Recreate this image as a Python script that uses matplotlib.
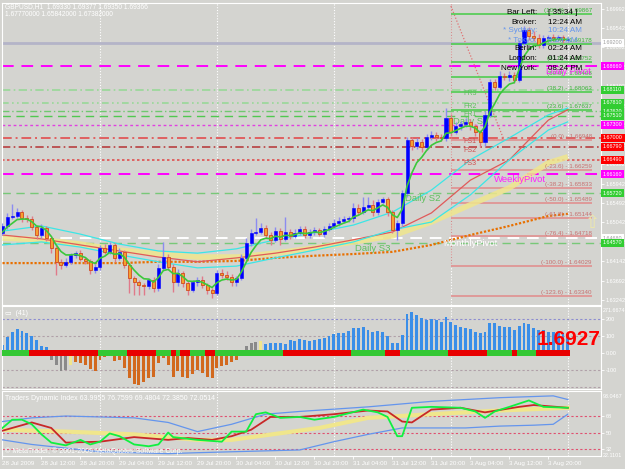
import matplotlib
matplotlib.use('Agg')
import matplotlib.pyplot as plt
import matplotlib.transforms as mtransforms
import numpy as np

plt.rcParams['font.family'] = ['Liberation Sans', 'DejaVu Sans']

W, H = 625, 469
BG = '#D4D4D0'

# ---------------- data ----------------
first_open = 1.6480
closes = [1.6496, 1.6517, 1.6519, 1.6528, 1.6514, 1.6512, 1.6494, 1.6475, 1.6491, 1.6468,
          1.6445, 1.6413, 1.6406, 1.6413, 1.6429, 1.6433, 1.6420, 1.6415, 1.6394, 1.6401,
          1.6445, 1.6436, 1.6452, 1.6422, 1.6436, 1.6406, 1.6376, 1.6366, 1.6359, 1.6357,
          1.6371, 1.6352, 1.6399, 1.6424, 1.6401, 1.6366, 1.6387, 1.6364, 1.6348, 1.6366,
          1.6371, 1.6359, 1.6348, 1.6341, 1.6387, 1.6383, 1.6378, 1.6366, 1.6376, 1.6422,
          1.6457, 1.6480, 1.6482, 1.6491, 1.6475, 1.6464, 1.6484, 1.6466, 1.6482, 1.6473,
          1.6480, 1.6489, 1.6475, 1.6482, 1.6487, 1.6477, 1.6489, 1.6496, 1.6503, 1.6508,
          1.6512, 1.6514, 1.6538, 1.6528, 1.6540, 1.6545, 1.6528, 1.6551, 1.6558, 1.6528,
          1.6487, 1.6503, 1.6572, 1.6695, 1.6681, 1.6690, 1.6679, 1.6702, 1.6707, 1.6702,
          1.6700, 1.6746, 1.6714, 1.6727, 1.6732, 1.6737, 1.6727, 1.6714, 1.6690, 1.6753,
          1.6829, 1.6818, 1.6843, 1.6841, 1.6845, 1.6834, 1.6920, 1.6950, 1.6936, 1.6931,
          1.6915, 1.6931, 1.6933, 1.6931, 1.6933, 1.6926, 1.6928]
up_pips = [6, 8, 28, 10, 5, 8, 6, 5, 10, 6,
           4, 5, 6, 8, 5, 6, 8, 5, 4, 6,
           8, 10, 6, 5, 8, 4, 5, 4, 6, 4,
           5, 6, 8, 35, 8, 6, 10, 5, 4, 6,
           6, 8, 5, 4, 6, 10, 8, 6, 5, 8,
           10, 8, 32, 12, 8, 6, 10, 8, 35, 8,
           10, 8, 6, 8, 6, 5, 8, 6, 10, 8,
           6, 5, 10, 8, 23, 18, 12, 8, 6, 5,
           4, 6, 8, 6, 8, 10, 8, 6, 8, 6,
           6, 23, 8, 10, 6, 8, 6, 6, 5, 10,
           8, 6, 12, 8, 10, 8, 6, 8, 6, 12,
           10, 8, 6, 8, 6, 5, 4]
down_pips = [5, 6, 6, 5, 8, 6, 8, 10, 6, 8,
             12, 30, 10, 6, 5, 8, 6, 8, 10, 6,
             8, 6, 5, 10, 6, 8, 35, 29, 22, 20,
             8, 10, 6, 5, 8, 23, 8, 10, 12, 6,
             8, 6, 10, 12, 6, 8, 6, 10, 8, 6,
             5, 8, 6, 5, 8, 12, 6, 15, 6, 8,
             6, 5, 8, 6, 8, 5, 6, 5, 4, 6,
             5, 6, 8, 6, 5, 8, 10, 6, 5, 8,
             8, 24, 6, 8, 10, 8, 12, 8, 6, 10,
             8, 8, 10, 6, 8, 6, 8, 10, 12, 8,
             6, 8, 6, 8, 10, 8, 6, 8, 10, 6,
             8, 6, 5, 6, 8, 6, 5]

ema_start = 1.6475
ma_bars = [0, 8, 16, 24, 32, 40, 48, 56, 64, 72, 80, 88, 96, 104, 112, 116]
red_ma = [1.6475, 1.6466, 1.6452, 1.6438, 1.6424, 1.6413, 1.6422, 1.6433, 1.6447, 1.6464,
          1.6482, 1.6526, 1.6602, 1.6649, 1.6741, 1.6765]
cyan_hi = [1.6484, 1.6496, 1.6477, 1.6454, 1.6438, 1.6433, 1.6443, 1.6464, 1.6480, 1.6498,
           1.6528, 1.6579, 1.6649, 1.6700, 1.6753, 1.6769]
cyan_lo = [1.6452, 1.6459, 1.6447, 1.6429, 1.6413, 1.6399, 1.6403, 1.6422, 1.6440, 1.6459,
           1.6487, 1.6505, 1.6568, 1.6649, 1.6718, 1.6737]
yellow_ma = [1.6468, 1.6464, 1.6454, 1.6440, 1.6431, 1.6424, 1.6424, 1.6433, 1.6445, 1.6459,
             1.6473, 1.6505, 1.6545, 1.6584, 1.6642, 1.6656]
orange_ma = [1.6410, 1.6410, 1.6410, 1.6410, 1.6413, 1.6413, 1.6415, 1.6422, 1.6427, 1.6431,
             1.6436, 1.6452, 1.6475, 1.6496, 1.6519, 1.6524]

bid_line = 1.6920
daily_pivot = 1.6866
fr3, fr2, fr1 = 1.6811, 1.6781, 1.6762
daily_s1 = 1.6751
fib_pivot = 1.6730
fs1, fs2, fs3 = 1.6700, 1.6679, 1.6649
weekly_pivot = 1.6616
daily_s2 = 1.6572
monthly_pivot = 1.6468
daily_s3 = 1.6457

fib_levels = [100.0, 76.4, 61.8, 50.0, 38.2, 23.6, 0.0, -23.6, -38.2, -50.0, -61.8, -76.4, -100.0, -123.6]
fib_prices = [1.69867, 1.69178, 1.68752, 1.68408, 1.68063, 1.67637, 1.66948, 1.66259, 1.65833,
              1.65489, 1.65144, 1.64718, 1.64029, 1.63340]

cci = [45, 95, 120, 140, 130, 115, 100, 75, 40, 35,
       -40, -70, -110, -100, -75, -55, -60, -70, -95, -110,
       -40, -25, -15, -50, -40, -90, -150, -185, -190, -175,
       -150, -140, -60, -30, -70, -140, -110, -140, -150, -125,
       -100, -120, -140, -150, -90, -80, -70, -55, -40, -20,
       40, 55, 65, 70, 50, 55, 60, 55, 50, 75,
       70, 78, 75, 70, 75, 78, 84, 100, 110, 118,
       118, 125, 143, 143, 149, 133, 123, 128, 120, 100,
       55, 55, 104, 227, 241, 221, 202, 192, 196, 192,
       182, 208, 182, 163, 153, 143, 137, 123, 118, 123,
       172, 172, 157, 149, 149, 133, 157, 172, 169, 143,
       133, 133, 123, 123, 114, 118, 110]
gray_bars = [10, 11, 12, 13, 50, 51, 52]
yellow_bars = [14, 53]
strip_runs = [('G', 6), ('R', 14), ('G', 6), ('R', 6), ('G', 3), ('R', 1), ('G', 1), ('R', 2),
              ('G', 3), ('R', 2), ('G', 14), ('R', 14), ('G', 7), ('R', 3), ('G', 10), ('R', 8),
              ('G', 5), ('R', 1), ('G', 4), ('R', 7)]

tdi_green_bars = [0, 2, 4, 6, 8, 10, 13, 16, 18, 20, 22, 24, 27, 30, 32, 34, 35, 40, 45, 47,
                  50, 52, 54, 57, 61, 64, 68, 74, 77, 79, 81, 82, 84, 88, 94, 97, 99, 101, 104, 108,
                  111, 116]
tdi_green = [55, 64, 64, 59, 48, 39, 36, 42, 37, 40, 49, 46, 37, 35, 37, 50, 45, 42, 40, 51,
             51, 70, 72, 66, 67, 64, 67, 75, 72, 67, 46, 46, 77, 78, 77, 73, 66, 73, 78, 85,
             78, 77]
tdi_red_bars = [0, 6, 10, 13, 20, 27, 34, 38, 43, 47, 51, 55, 61, 68, 75, 79, 82, 84, 88, 94,
                99, 106, 109, 116]
tdi_red = [52, 61, 55, 39, 40, 45, 42, 44, 42, 46, 53, 67, 67, 70, 74, 73, 62, 61, 75, 77,
           72, 78, 80, 77]
tdi_yellow_bars = [0, 13, 27, 40, 47, 65, 75, 88, 102, 116]
tdi_yellow = [53, 51, 48, 42, 42, 55, 66, 70, 74, 77]
tdi_up_bars = [0, 6, 13, 20, 27, 34, 40, 47, 54, 61, 75, 88, 102, 113, 116]
tdi_up = [62, 66, 68, 67, 66, 61, 51, 59, 70, 73, 78, 84, 88, 90, 86]
tdi_lo_bars = [0, 6, 13, 20, 27, 34, 40, 47, 54, 61, 68, 75, 82, 88, 95, 102, 109, 113, 116]
tdi_lo = [42, 37, 33, 29, 28, 27, 28, 29, 30, 31, 40, 48, 55, 55, 55, 57, 58, 59, 70]

x_label_bars = [0, 8, 16, 24, 32, 40, 48, 56, 64, 72, 80, 88, 96, 104, 112]
x_labels = ['28 Jul 2009', '28 Jul 12:00', '28 Jul 20:00', '29 Jul 04:00', '29 Jul 12:00',
            '29 Jul 20:00', '30 Jul 04:00', '30 Jul 12:00', '30 Jul 20:00', '31 Jul 04:00',
            '31 Jul 12:00', '31 Jul 20:00', '3 Aug 04:00', '3 Aug 12:00', '3 Aug 20:00']
day_breaks = [20, 44, 68, 92, 116]

clock_names = ['Bar Left:', 'Broker:', '* Sydney:', '* Tokyo:', 'Berlin:', 'London:', 'New York:']
clock_values = ['[ 35:34 ]', '12:24 AM', '10:24 AM', '9:24 AM', '02:24 AM', '01:24 AM', '08:24 PM']

# ---------------- figure ----------------
fig = plt.figure(figsize=(W / 100, H / 100), dpi=100, facecolor=BG)


def px_axes(top, bottom):
    return fig.add_axes([2 / W, 1 - bottom / H, 599 / W, (bottom - top) / H])


def ftext(px, py, s, **kw):
    kw.setdefault('va', 'center')
    fig.text(px / W, 1 - py / H, s, **kw)


ax1 = px_axes(3, 305)
ax2 = px_axes(306, 389)
ax3 = px_axes(391, 456)
XMIN, XMAX = -0.1, 122.8
for ax in (ax1, ax2, ax3):
    ax.set_facecolor(BG)
    ax.set_xlim(XMIN, XMAX)
    for s in ax.spines.values():
        s.set_color('white')
        s.set_linewidth(0.8)
    ax.yaxis.tick_right()
    ax.tick_params(axis='y', colors='white', labelsize=4, length=2, pad=1.2, width=0.6)
    for b in day_breaks:
        ax.axvline(b, color='white', ls=(0, (1, 1.5)), lw=0.8, zorder=1)
ax1.set_xticks([])
ax2.set_xticks([])

# ---------------- main price panel ----------------
ax1.set_ylim(1.6313, 1.7012)
ticks = [1.69992 - 0.0045 * k for k in range(16)]
ax1.set_yticks(ticks, ['%.5f' % t for t in ticks])

n = len(closes)
x = np.arange(n)
c = np.array(closes)
o = np.array([first_open] + closes[:-1])
hi = np.maximum(o, c) + np.array(up_pips) * 0.0001
lo = np.minimum(o, c) - np.array(down_pips) * 0.0001
bull = c >= o

# horizontal levels
ax1.axhline(bid_line, color='#B4B4C8', lw=2, zorder=2)
ax1.axhline(daily_pivot, color='#FF00FF', lw=1.4, ls=(0, (6, 4)), zorder=2)
ax1.axhline(fr3, color='#98D898', lw=1.2, ls=(0, (5, 2, 1, 2)), zorder=2)
ax1.axhline(fr2, color='#98D898', lw=1.2, ls=(0, (4, 2, 1, 2, 1, 2)), zorder=2)
ax1.axhline(fr1, color='#70C870', lw=1.0, ls=(0, (5, 2, 1, 2)), zorder=2)
ax1.axhline(daily_s1, color='#50C850', lw=1.0, ls=(0, (6, 4)), zorder=2)
ax1.axhline(fib_pivot, color='#E040E0', lw=1.0, ls=(0, (2, 2)), zorder=2)
ax1.axhline(fs1, color='#E06060', lw=1.4, ls=(0, (5, 2, 1, 2)), zorder=2)
ax1.axhline(fs2, color='#B84040', lw=1.2, ls=(0, (5, 2, 1, 2)), zorder=2)
ax1.axhline(fs3, color='#E05050', lw=1.2, ls=(0, (1.5, 1.5)), zorder=2)
ax1.axhline(weekly_pivot, color='#FF00FF', lw=1.4, ls=(0, (6, 4)), zorder=2)
ax1.axhline(daily_s2, color='#78C878', lw=1.0, ls=(0, (6, 4)), zorder=2)
ax1.axhline(monthly_pivot, color='white', lw=1.4, ls=(0, (6, 4)), zorder=2)
ax1.axhline(daily_s3, color='#78C878', lw=1.0, ls=(0, (6, 4)), zorder=2)

# fibonacci frame
fib_end = (592 - 2.5) / 4.875
ax1.vlines(92, fib_prices[12], 1.7012, color='#D08888', ls=(0, (1, 1.5)), lw=0.8, zorder=2)
ax1.plot([92, 103], [1.7005, 1.6692], color='#E07070', ls=(0, (1, 1.5)), lw=0.9, zorder=2)
for lvl, pr in zip(fib_levels, fib_prices):
    col = '#5ACD5A' if lvl > 0 else '#E09595'
    tcol = '#3CB43C' if lvl > 0 else '#C87070'
    ax1.hlines(pr, 92, fib_end, color=col, lw=1.3, zorder=2)
    ax1.text(fib_end, pr + 0.0002, '(%.1f) - %.5f' % (lvl, pr), color=tcol, fontsize=4.5,
             ha='right', va='bottom', zorder=6)

# moving averages
ax1.plot(ma_bars, yellow_ma, color='#F0E68C', lw=4, alpha=0.85, solid_capstyle='butt', zorder=3)
ax1.plot(ma_bars, orange_ma, color='#E87000', lw=1.6, ls=(0, (1, 0.8)), zorder=3)
ax1.plot(ma_bars, red_ma, color='#E05A5A', lw=0.9, zorder=3)
ax1.plot(ma_bars, cyan_hi, color='#3CE6E6', lw=0.9, zorder=3)
ax1.plot(ma_bars, cyan_lo, color='#3CE6E6', lw=0.9, zorder=3)

# candles
ax1.vlines(x[bull], lo[bull], hi[bull], color='#8C8CF0', lw=1, zorder=4)
ax1.vlines(x[~bull], lo[~bull], hi[~bull], color='#E07A8A', lw=1, zorder=4)
body = np.maximum(np.abs(c - o), 0.00008)
ax1.bar(x[bull], body[bull], bottom=np.minimum(o, c)[bull], width=0.62, color='#0000FF',
        edgecolor='#0000FF', lw=0.4, zorder=5)
ax1.bar(x[~bull], body[~bull], bottom=np.minimum(o, c)[~bull], width=0.62, color='#F5A030',
        edgecolor='#D04A20', lw=0.6, zorder=5)

ema = []
e = ema_start
for v in closes:
    e = e + (2 / 6) * (v - e)
    ema.append(e)
ax1.plot(x, ema, color='#3CC83C', lw=1.2, zorder=6)

# level labels on chart
gcol = '#5CC05C'
ax1.text((405 - 2.5) / 4.875, daily_s2 - 0.0002, 'Daily S2', color=gcol, fontsize=6.8, va='top', zorder=7)
ax1.text((355 - 2.5) / 4.875, daily_s3 - 0.0002, 'Daily S3', color=gcol, fontsize=6.8, va='top', zorder=7)
ax1.text((453 - 2.5) / 4.875, daily_s1 - 0.0002, 'Daily S1', color=gcol, fontsize=6.8, va='top', zorder=3)
ax1.text((546 - 2.5) / 4.875, daily_pivot - 0.0002, 'Daily Pivot', color='#FF20FF', fontsize=6.8, va='top', zorder=7)
ax1.text((494 - 2.5) / 4.875, weekly_pivot - 0.0002, 'WeeklyPivot', color='#FF20FF', fontsize=6.8, va='top', zorder=7)
ax1.text((443 - 2.5) / 4.875, monthly_pivot - 0.0002, 'MonthlyPivot', color='white', fontsize=6.8, va='top', zorder=3)
for name, pr, col in [('FR3', fr3, gcol), ('FR2', fr2, gcol), ('FR1', fr1, gcol),
                      ('FS1', fs1, '#D05050'), ('FS2', fs2, '#D05050'), ('FS3', fs3, '#D05050')]:
    ax1.text((470 - 2.5) / 4.875, pr - 0.0001, name, color=col, fontsize=5, ha='center', va='top', zorder=3)

# price tags on the right scale
tr = mtransforms.blended_transform_factory(fig.transFigure, ax1.transData)
tags = [(bid_line, 'white', '#A0A0A0'), (daily_pivot, '#FF00FF', 'white'), (fr3, '#32CD32', 'white'),
        (fr2, '#32CD32', 'white'), (fr1, '#32CD32', 'white'), (daily_s1, '#32CD32', 'white'),
        (fib_pivot, '#FF00FF', 'white'), (fs1, '#FF0000', 'white'), (fs2, '#FF0000', 'white'),
        (fs3, '#FF0000', 'white'), (weekly_pivot, '#FF00FF', 'white'), (daily_s2, '#32CD32', 'white'),
        (monthly_pivot, 'white', '#A0A0A0'), (daily_s3, '#32CD32', 'white')]
for pr, fc, tc in tags:
    ax1.text(603 / W, pr, '%.5f' % pr, transform=tr, fontsize=3.9, color=tc, va='center',
             ha='left', clip_on=False, zorder=10,
             bbox=dict(boxstyle='square,pad=0.3', fc=fc, ec='none'))

# headers
ftext(5, 7, 'GBPUSD,H1  1.69330 1.69377 1.69350 1.69366', color='white', fontsize=4.8)
ftext(5, 14, '1.67770000 1.65842000 1.67382000', color='white', fontsize=4.8)
clock_ys = [13, 22, 31, 40, 49, 59, 68]
for name, val, yy in zip(clock_names, clock_values, clock_ys):
    col = '#6495ED' if name.startswith('*') else 'black'
    ftext(537, yy, name, color=col, fontsize=5.8, ha='right')
    ftext(548, yy, val, color=col, fontsize=5.8, ha='left')
ftext(592, 223, '\u21e7', color='#EEE8AA', fontsize=13, ha='center', family='DejaVu Sans')

# ---------------- CCI histogram panel ----------------
ax2.set_ylim(-213.5, 274.7)
ax2.set_yticks([200, 100, 0, -100], ['200', '100', '0.00', '-100'])
ax2.axhline(200, color='#8C8CD0', lw=0.8, ls=(0, (2, 2)), zorder=1)
for lv in (100, -100, -200):
    ax2.axhline(lv, color='#B0A0A8', lw=0.8, ls=(0, (2, 2)), zorder=1)
cols = []
for i, v in enumerate(cci):
    if i in gray_bars:
        cols.append('#8A8A8A')
    elif i in yellow_bars:
        cols.append('#F0E68C')
    elif v >= 0:
        cols.append('#3A8EE8')
    else:
        cols.append('#D2691E')
ax2.bar(x, cci, width=0.6, color=cols, zorder=2)
strip = []
for state, count in strip_runs:
    strip += ['#34C834' if state == 'G' else '#E80000'] * count
ax2.bar(x, 36, bottom=-18, width=1.0, color=strip, zorder=3)
ftext(5, 313, '\u25ad  (41)', color='white', fontsize=5)
ftext(600, 339, '1.6927', color='#FF0000', fontsize=15, fontweight='bold', ha='right')
ftext(603, 311, '271.6674', color='white', fontsize=3.9)

# ---------------- TDI panel ----------------
ax3.set_ylim(24.4, 95.3)
ax3.set_yticks([68, 50, 32], ['68', '50', '32'])
for lv in (68, 50, 32):
    ax3.axhline(lv, color='#E05070', lw=0.8, ls=(0, (2, 2)), zorder=1)
ax3.plot(tdi_yellow_bars, tdi_yellow, color='#F0E68C', lw=3, zorder=2)
ax3.plot(tdi_up_bars, tdi_up, color='#6495ED', lw=0.9, zorder=3)
ax3.plot(tdi_lo_bars, tdi_lo, color='#6495ED', lw=0.9, zorder=3)
ax3.plot(tdi_red_bars, tdi_red, color='#C82828', lw=1.3, zorder=4)
ax3.plot(tdi_green_bars, tdi_green, color='#10F040', lw=1.3, zorder=4)
ax3.set_xticks(x_label_bars, x_labels, ha='left')
ax3.tick_params(axis='x', colors='white', labelsize=4.5, length=2, pad=1.5, width=0.6)
ftext(5, 398, 'Traders Dynamic Index 63.9955 76.7599 69.4804 72.3850 72.0514', color='white', fontsize=5)
ftext(5, 451, '\u00a9 MetaTrader, \u00a9 2001-2009 MetaQuotes Software Corp.', color='white', fontsize=5)
ftext(603, 396, '93.0467', color='white', fontsize=3.9)
ftext(603, 455, '22.1101', color='white', fontsize=3.9)

fig.savefig('out.png', dpi=100, facecolor=BG)
